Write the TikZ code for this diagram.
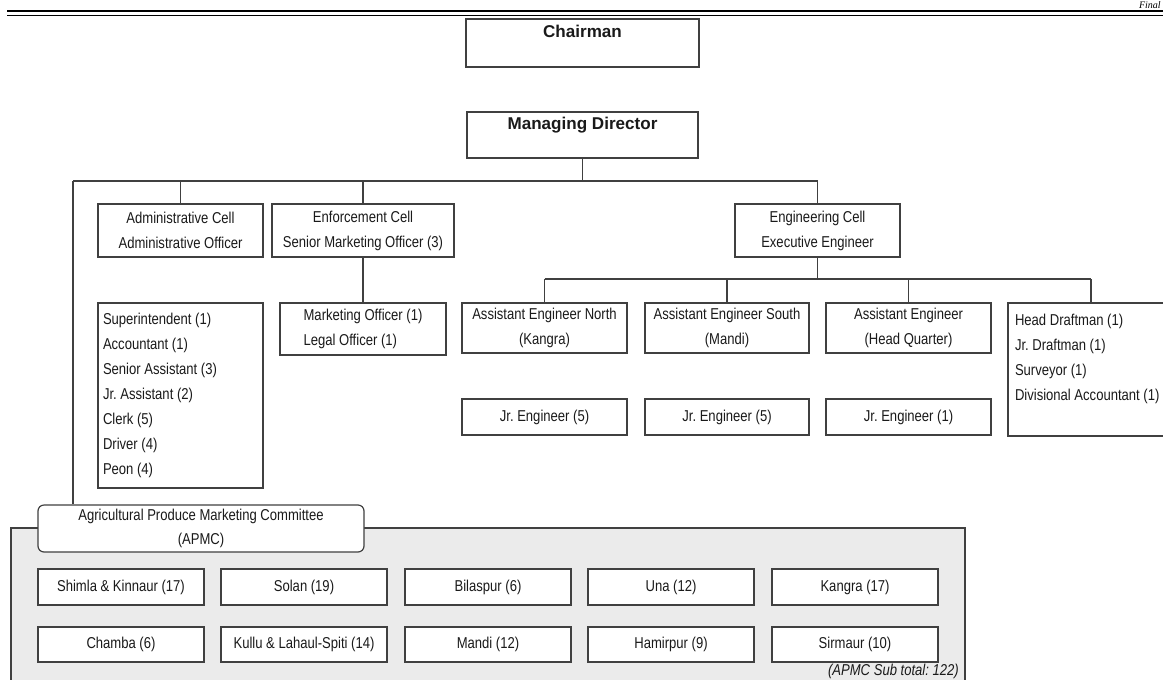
\documentclass[tikz,border=0pt]{standalone}
\usepackage{fontspec}
\setmainfont{Liberation Sans}[FakeStretch=0.83]
\newfontfamily\hdfont{Liberation Sans}
\newfontfamily\serifit{Liberation Serif}
\definecolor{linec}{HTML}{404040}
\definecolor{txtc}{HTML}{1A1A1A}
\definecolor{apmcgray}{HTML}{EBEBEB}
\frenchspacing
\tikzset{
  box/.style={draw=linec, line width=0.9pt, fill=white, inner sep=0pt, align=center,
    text=txtc, font=\fontsize{11.8}{18.75}\selectfont},
  sz/.style 2 args={minimum width={#1*0.75pt}, minimum height={#2*0.75pt}},
  listbox/.style={box, align=flush left, inner xsep=3.75pt},
  conn/.style={draw=linec, line width=0.9pt},
  headfont/.style={font=\hdfont\bfseries\fontsize{12.8}{14}\selectfont}
}
\begin{document}
\begin{tikzpicture}[x=0.75pt,y=-0.75pt]
\useasboundingbox (0,0) rectangle (1163,679);
\fill[white] (0,0) rectangle (1163,679);
% header rules
\draw[line width=1.9pt, black] (7,11.2) -- (1175,11.2);
\draw[line width=0.75pt, black] (7,15) -- (1175,15);
\node[anchor=base east, inner sep=0pt, font=\serifit\itshape\fontsize{7.5}{9}\selectfont] (final) at (1161,8.5) {Final};

% top
\node[box, headfont, sz={233}{48}, text height=14pt, text depth=22pt] (chair) at (582.5,43) {Chairman};
\node[box, headfont, sz={231}{46}, text height=12.75pt, text depth=21.75pt] (md) at (582.5,135) {Managing Director};

% cells
\node[box, sz={165}{53}] (admin) at (180.5,230.5) {Administrative Cell\\Administrative Officer};
\node[box, sz={182}{53}] (enf) at (363,230.5) {Enforcement Cell\\Senior Marketing Officer (3)};
\node[box, sz={165}{53}] (eng) at (817.5,230.5) {Engineering Cell\\Executive Engineer};

% admin staff
\node[listbox, text width={155*0.75pt}, sz={165}{185}] (staff) at (180.5,395.5)
  {Superintendent (1)\\Accountant (1)\\Senior Assistant (3)\\Jr. Assistant (2)\\Clerk (5)\\Driver (4)\\Peon (4)};
% enforcement staff
\node[box, align=left, sz={166}{52}] (mkt) at (363,329) {Marketing Officer (1)\\Legal Officer (1)};

% engineering
\node[box, sz={165}{50}] (aen) at (544.5,328) {Assistant Engineer North\\(Kangra)};
\node[box, sz={164}{50}] (aes) at (727,328) {Assistant Engineer South\\(Mandi)};
\node[box, sz={165}{50}] (aeh) at (908.5,328) {Assistant Engineer\\(Head Quarter)};
\node[listbox, inner xsep=5.25pt, text width={152*0.75pt}, sz={166}{133}] (hd) at (1091,369.5)
  {Head Draftman (1)\\Jr. Draftman (1)\\Surveyor (1)\\Divisional Accountant (1)\\~};
\node[box, sz={165}{36}] (jen) at (544.5,417) {Jr. Engineer (5)};
\node[box, sz={164}{36}] (jes) at (727,417) {Jr. Engineer (5)};
\node[box, sz={165}{36}] (jeh) at (908.5,417) {Jr. Engineer (1)};

% APMC area
\node[draw=linec, line width=0.9pt, fill=apmcgray, inner sep=0pt, sz={954}{170}] (apmcarea) at (488,613) {};
\node[box, rounded corners=4.5pt, sz={326}{47}, font=\fontsize{11.8}{18}\selectfont] (apmc) at (201,528.5)
  {Agricultural Produce Marketing Committee\\(APMC)};
\node[box, sz={166}{36}] (d1) at (121,587) {Shimla \& Kinnaur (17)};
\node[box, sz={166}{36}] (d2) at (304,587) {Solan (19)};
\node[box, sz={166}{36}] (d3) at (488,587) {Bilaspur (6)};
\node[box, sz={166}{36}] (d4) at (671,587) {Una (12)};
\node[box, sz={166}{36}] (d5) at (855,587) {Kangra (17)};
\node[box, sz={166}{35}] (d6) at (121,644.5) {Chamba (6)};
\node[box, sz={166}{35}] (d7) at (304,644.5) {Kullu \& Lahaul-Spiti (14)};
\node[box, sz={166}{35}] (d8) at (488,644.5) {Mandi (12)};
\node[box, sz={166}{35}] (d9) at (671,644.5) {Hamirpur (9)};
\node[box, sz={166}{35}] (d10) at (855,644.5) {Sirmaur (10)};
\node[anchor=base east, inner sep=0pt, text=txtc, font=\itshape\fontsize{11.8}{13}\selectfont] (subtotal) at (959,675) {(APMC Sub total: 122)};

% connectors
\coordinate (busL) at (73,181);
\coordinate (busR) at (817.5,181);
\draw[conn] (busL) -- (busR);
\draw[conn] (md.south) -- (md.south |- busL);
\draw[conn] (busL) -- (busL |- apmc.north);
\draw[conn] (admin.north) -- (admin.north |- busL);
\draw[conn] (enf.north) -- (enf.north |- busL);
\draw[conn] (eng.north) -- (eng.north |- busL);
\draw[conn] (enf.south) -- (mkt.north);
\coordinate (ebus) at (817.5,279);
\draw[conn] (eng.south) -- (ebus);
\draw[conn] (aen.north |- ebus) -- (hd.north |- ebus);
\draw[conn] (aen.north) -- (aen.north |- ebus);
\draw[conn] (aes.north) -- (aes.north |- ebus);
\draw[conn] (aeh.north) -- (aeh.north |- ebus);
\draw[conn] (hd.north) -- (hd.north |- ebus);
\end{tikzpicture}
\end{document}
